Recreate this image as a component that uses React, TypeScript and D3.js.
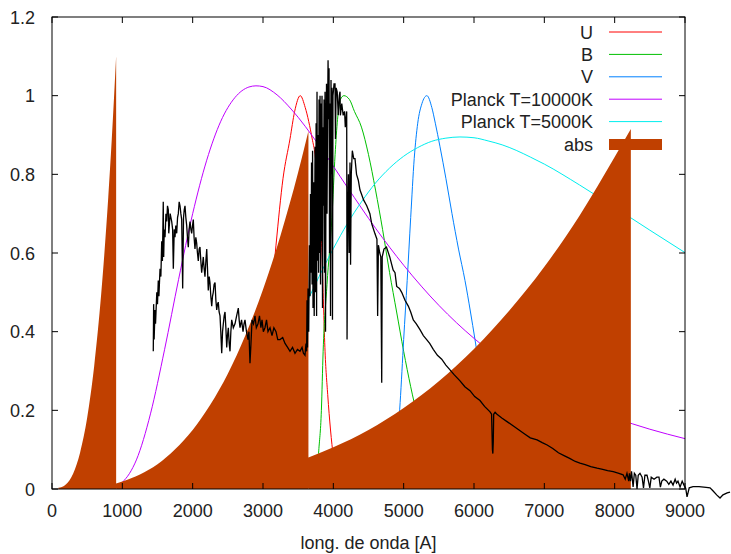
import React from "react";
import * as d3 from "d3";

// ---- data (wavelength in Angstrom) ----
const xTicks = [0, 1000, 2000, 3000, 4000, 5000, 6000, 7000, 8000, 9000];
const yTicks = [0, 0.2, 0.4, 0.6, 0.8, 1, 1.2];
const yTickLabels = ["0", "0.2", "0.4", "0.6", "0.8", "1", "1.2"];
const seriesNames = ["U", "B", "V", "Planck T=10000K", "Planck T=5000K", "abs"];
const seriesColors = ["#ff0000", "#00c000", "#0080ff", "#c000ff", "#00eeee", "#c04000"];

const uWave = [3000, 3100, 3185, 3285, 3384, 3450, 3530, 3600, 3700, 3740, 3800, 3840, 3860, 3880, 3920, 3960, 4000, 4050];
const uResp = [0.2, 0.45, 0.62, 0.79, 0.89, 0.96, 1.0, 0.97, 0.89, 0.85, 0.72, 0.59, 0.47, 0.36, 0.24, 0.15, 0.08, 0.0];

const bWave = [3760, 3790, 3830, 3855, 3910, 3980, 4025, 4060, 4100, 4150, 4230, 4300, 4400, 4500, 4600, 4700, 4800, 4900, 5000, 5100, 5200, 5300, 5400, 5500];
const bResp = [0, 0.09, 0.2, 0.35, 0.52, 0.69, 0.85, 0.94, 0.99, 1.0, 0.99, 0.96, 0.92, 0.85, 0.76, 0.66, 0.55, 0.45, 0.35, 0.26, 0.18, 0.1, 0.04, 0];

const vWave = [4850, 4900, 4950, 5000, 5050, 5100, 5150, 5200, 5260, 5330, 5400, 5450, 5517, 5600, 5687, 5780, 5872, 5950, 6014, 6100, 6200, 6300, 6400];
const vResp = [0, 0.1, 0.22, 0.38, 0.53, 0.69, 0.84, 0.93, 0.98, 1.0, 0.97, 0.93, 0.87, 0.79, 0.7, 0.61, 0.53, 0.45, 0.38, 0.28, 0.17, 0.08, 0];

const p10Wave = [1000, 1100, 1200, 1400, 1600, 1800, 2000, 2200, 2400, 2600, 2800, 2900, 3000, 3200, 3400, 3800, 4200, 4600, 5000, 5500, 6000, 6500, 7000, 7500, 8000, 8500, 9000];
const p10Flux = [0.017, 0.039, 0.074, 0.191, 0.354, 0.533, 0.7, 0.836, 0.935, 0.995, 1.022, 1.025, 1.023, 1.002, 0.966, 0.873, 0.767, 0.663, 0.569, 0.467, 0.383, 0.315, 0.263, 0.216, 0.181, 0.152, 0.128];

const p5Wave = [3650, 3800, 3900, 4000, 4200, 4400, 4600, 4800, 5000, 5200, 5400, 5600, 5800, 6000, 6200, 6400, 6600, 6800, 7000, 7500, 8000, 8500, 9000];
const p5Flux = [0.485, 0.541, 0.577, 0.611, 0.675, 0.73, 0.778, 0.816, 0.846, 0.868, 0.884, 0.892, 0.895, 0.893, 0.885, 0.875, 0.861, 0.844, 0.826, 0.773, 0.716, 0.658, 0.601];

// absorcion: tres tramos (Lyman, Balmer, Paschen)
const lymanWave = [90, 140, 200, 300, 400, 500, 600, 700, 800, 850, 912];
const lymanVal = [0.003, 0.005, 0.012, 0.039, 0.093, 0.181, 0.313, 0.497, 0.742, 0.89, 1.1];
const balmerWave = [912, 1000, 1250, 1500, 1750, 2000, 2250, 2500, 2750, 3000, 3250, 3500, 3646];
const balmerVal = [0.014, 0.019, 0.037, 0.063, 0.101, 0.15, 0.214, 0.293, 0.391, 0.507, 0.645, 0.805, 0.91];
const paschenWave = [3646, 4000, 4500, 5000, 5500, 6000, 6500, 7000, 7500, 8000, 8230];
const paschenVal = [0.08, 0.106, 0.15, 0.206, 0.274, 0.356, 0.453, 0.565, 0.695, 0.844, 0.915];

const specWave = [
  1440, 1445, 1452, 1465, 1472, 1490, 1500, 1511, 1520, 1536, 1548, 1560, 1570, 1582, 1588, 1596, 1607, 1620, 1631, 1642,
  1654, 1660, 1680, 1702, 1715, 1725, 1738, 1749, 1760, 1773, 1785, 1796, 1808, 1820, 1832, 1844, 1858, 1870, 1880, 1891,
  1903, 1915, 1926, 1938, 1950, 1962, 1975, 1986, 1998, 2009, 2020, 2033, 2045, 2057, 2068, 2080, 2092, 2104, 2116, 2128,
  2140, 2151, 2163, 2175, 2188, 2200, 2211, 2222, 2235, 2246, 2258, 2271, 2282, 2293, 2305, 2318, 2330, 2342, 2353, 2364,
  2376, 2389, 2400, 2413, 2425, 2436, 2448, 2460, 2472, 2484, 2495, 2507, 2519, 2531, 2543, 2555, 2578, 2602, 2625, 2649,
  2661, 2673, 2695, 2716, 2730, 2744, 2765, 2787, 2800, 2815, 2829, 2844, 2865, 2886, 2905, 2929, 2950, 2970, 2986, 3005,
  3028, 3050, 3071, 3100, 3128, 3155, 3185, 3210, 3242, 3280, 3313, 3350, 3384, 3420, 3455, 3490, 3526, 3555, 3575, 3597,
  3611, 3620, 3626, 3633, 3640, 3650, 3660, 3668, 3675, 3683, 3690, 3698, 3705, 3711, 3720, 3728, 3740, 3748, 3755, 3762,
  3768, 3775, 3783, 3790, 3797, 3804, 3811, 3818, 3825, 3832, 3839, 3846, 3853, 3861, 3868, 3875, 3882, 3889, 3896, 3903,
  3910, 3918, 3925, 3932, 3939, 3946, 3953, 3960, 3967, 3974, 3981, 3988, 3995, 4010, 4024, 4030, 4040, 4055, 4070, 4085,
  4095, 4100, 4120, 4140, 4160, 4170, 4180, 4190, 4195, 4205, 4215, 4225, 4237, 4245, 4255, 4270, 4290, 4308, 4330, 4355,
  4379, 4400, 4430, 4475, 4520, 4545, 4590, 4610, 4620, 4630, 4641, 4660, 4675, 4688, 4695, 4720, 4755, 4802, 4850, 4877,
  4901, 4940, 4972, 5019, 5066, 5100, 5137, 5180, 5232, 5280, 5327, 5370, 5421, 5480, 5541, 5600, 5659, 5720, 5801, 5870,
  5943, 6010, 6085, 6150, 6228, 6250, 6262, 6268, 6274, 6280, 6300, 6327, 6400, 6480, 6560, 6640, 6720, 6800, 6897, 6970,
  7040, 7120, 7200, 7280, 7360, 7440, 7507, 7580, 7660, 7750, 7830, 7900, 7980, 8060, 8120, 8150, 8175, 8200, 8210, 8225,
  8240, 8262, 8280, 8300, 8318, 8335, 8360, 8390, 8410, 8430, 8460, 8480, 8500, 8520, 8560, 8600, 8630, 8650, 8670, 8700,
  8740, 8770, 8800, 8830, 8860, 8880, 8900, 8930, 8960, 8990, 9010, 9029, 9060, 9114, 9200, 9300, 9356, 9400, 9450, 9498,
  9540, 9600, 9640,
];
const specFlux = [
  0.35, 0.47, 0.38, 0.455, 0.42, 0.5, 0.47, 0.53, 0.49, 0.56, 0.54, 0.63, 0.58, 0.73, 0.59, 0.66, 0.64, 0.7, 0.68, 0.72,
  0.71, 0.65, 0.7, 0.68, 0.66, 0.56, 0.66, 0.64, 0.67, 0.65, 0.69, 0.7, 0.73, 0.72, 0.7, 0.685, 0.51, 0.69, 0.71, 0.72,
  0.69, 0.67, 0.64, 0.615, 0.66, 0.68, 0.66, 0.65, 0.67, 0.685, 0.64, 0.61, 0.64, 0.625, 0.6, 0.58, 0.61, 0.615, 0.58, 0.55,
  0.57, 0.59, 0.56, 0.54, 0.58, 0.61, 0.56, 0.505, 0.54, 0.525, 0.49, 0.465, 0.49, 0.5, 0.52, 0.525, 0.48, 0.455, 0.47, 0.475,
  0.45, 0.44, 0.4, 0.345, 0.4, 0.42, 0.44, 0.45, 0.41, 0.36, 0.39, 0.41, 0.37, 0.35, 0.4, 0.43, 0.41, 0.42, 0.44, 0.46,
  0.43, 0.41, 0.43, 0.4, 0.42, 0.43, 0.4, 0.38, 0.4, 0.32, 0.37, 0.43, 0.42, 0.44, 0.41, 0.42, 0.44, 0.41, 0.43, 0.4,
  0.41, 0.43, 0.4, 0.41, 0.39, 0.41, 0.4, 0.38, 0.38, 0.385, 0.37, 0.36, 0.35, 0.36, 0.345, 0.355, 0.35, 0.36, 0.345, 0.34,
  0.37, 0.35, 0.48, 0.36, 0.51, 0.4, 0.62, 0.49, 0.75, 0.55, 0.83, 0.52, 0.86, 0.46, 0.78, 0.44, 0.87, 0.5, 0.93, 0.44,
  1.01, 0.58, 0.9, 0.55, 0.99, 0.6, 1.0, 0.52, 0.98, 0.63, 1.0, 0.46, 0.92, 0.72, 0.99, 0.55, 1.01, 0.4, 0.85, 1.03,
  0.7, 0.94, 1.09, 0.94, 1.07, 0.6, 0.98, 0.44, 1.04, 0.8, 1.02, 0.43, 1.0, 1.03, 1.03, 0.89, 1.02, 1.01, 0.95, 1.0,
  1.01, 0.95, 0.98, 0.95, 0.96, 0.92, 0.94, 0.96, 0.38, 0.7, 0.8, 0.6, 0.83, 0.57, 0.8, 0.86, 0.84, 0.84, 0.8, 0.785,
  0.76, 0.75, 0.735, 0.72, 0.7, 0.675, 0.65, 0.64, 0.635, 0.44, 0.62, 0.6, 0.59, 0.27, 0.59, 0.61, 0.615, 0.59, 0.557, 0.55,
  0.515, 0.51, 0.5, 0.48, 0.465, 0.45, 0.43, 0.42, 0.405, 0.39, 0.38, 0.37, 0.355, 0.34, 0.33, 0.315, 0.303, 0.29, 0.275, 0.26,
  0.25, 0.235, 0.225, 0.21, 0.196, 0.19, 0.1, 0.09, 0.12, 0.19, 0.195, 0.19, 0.18, 0.17, 0.16, 0.15, 0.14, 0.13, 0.125, 0.118,
  0.112, 0.103, 0.092, 0.085, 0.078, 0.07, 0.066, 0.062, 0.057, 0.053, 0.05, 0.047, 0.044, 0.04, 0.036, 0.025, 0.04, 0.02, 0.04, 0.02,
  0.045, 0.005, 0.04, 0.035, 0.0, 0.035, 0.04, 0.03, 0.003, 0.035, 0.035, 0.02, 0.003, 0.03, 0.025, 0.03, 0.03, 0.005, 0.02, 0.025,
  0.02, 0.012, 0.02, 0.01, 0.025, 0.015, 0.02, 0.005, 0.02, 0.008, 0.002, -0.02, 0.003, 0.006, 0.006, 0.004, 0.003, -0.005, -0.015, -0.023,
  -0.015, -0.01, -0.008,
];

const W = 731;
const H = 554;
const left = 52;
const right = 685;
const top = 17;
const bottom = 489;
const font = "'Liberation Sans', Arial, sans-serif";

const App = () => {
  const x = d3.scaleLinear().domain([0, 9000]).range([left, right]);
  const y = d3.scaleLinear().domain([0, 1.2]).range([bottom, top]);

  const zip = (xs: number[], ys: number[]) => xs.map((w, i) => [w, ys[i]] as [number, number]);

  const smooth = d3
    .line<[number, number]>()
    .x((d) => x(d[0]))
    .y((d) => y(d[1]))
    .curve(d3.curveMonotoneX);
  const straight = d3
    .line<[number, number]>()
    .x((d) => x(d[0]))
    .y((d) => y(d[1]));
  const area = d3
    .area<[number, number]>()
    .x((d) => x(d[0]))
    .y0(y(0))
    .y1((d) => y(d[1]))
    .curve(d3.curveMonotoneX);

  const curves = [
    zip(uWave, uResp),
    zip(bWave, bResp),
    zip(vWave, vResp),
    zip(p10Wave, p10Flux),
    zip(p5Wave, p5Flux),
  ];
  // 3つの区間を1つのpathにまとめる（継ぎ目の白線を防ぐ）
  const absPath = [zip(lymanWave, lymanVal), zip(balmerWave, balmerVal), zip(paschenWave, paschenVal)]
    .map((p) => area(p) || "")
    .join(" ");

  const keyX1 = 609;
  const keyX2 = 662;
  const keyTextX = 593;
  const keyY = (i: number) => 32 + i * 22.4;

  return (
    <svg width={W} height={H} style={{ position: "absolute", left: 0, top: 0, background: "#fff" }}>
      <rect x={0} y={0} width={W} height={H} fill="#fff" />
      {/* 曲線 (フィルタとプランク) */}
      {curves.map((c, i) => (
        <path key={seriesNames[i]} d={smooth(c) || ""} fill="none" stroke={seriesColors[i]} strokeWidth={1} />
      ))}
      {/* 吸収 */}
      <path d={absPath} fill={seriesColors[5]} stroke="none" />
      {/* 枠 */}
      <rect x={left} y={top} width={right - left} height={bottom - top} fill="none" stroke="#000" strokeWidth={1} />
      {xTicks.map((t) => (
        <g key={"x" + t}>
          <line x1={x(t)} x2={x(t)} y1={bottom} y2={bottom - 6} stroke="#000" />
          <line x1={x(t)} x2={x(t)} y1={top} y2={top + 6} stroke="#000" />
          <text x={x(t)} y={517} textAnchor="middle" fontFamily={font} fontSize={18} fill="#222">
            {t}
          </text>
        </g>
      ))}
      {yTicks.map((t, i) => (
        <g key={"y" + t}>
          <line x1={left} x2={left + 6} y1={y(t)} y2={y(t)} stroke="#000" />
          <line x1={right} x2={right - 6} y1={y(t)} y2={y(t)} stroke="#000" />
          <text x={35} y={y(t) + 6.5} textAnchor="end" fontFamily={font} fontSize={18} fill="#222">
            {yTickLabels[i]}
          </text>
        </g>
      ))}
      {/* スペクトル */}
      <path d={straight(zip(specWave, specFlux)) || ""} fill="none" stroke="#000" strokeWidth={1.3} />
      <text x={(left + right) / 2} y={549} textAnchor="middle" fontFamily={font} fontSize={18} fill="#222">
        long. de onda [A]
      </text>
      {/* 凡例 */}
      {seriesNames.map((name, i) => (
        <g key={"k" + name}>
          <text x={keyTextX} y={keyY(i) + 6.5} textAnchor="end" fontFamily={font} fontSize={18} fill="#222">
            {name}
          </text>
          {i < 5 ? (
            <line x1={keyX1} x2={keyX2} y1={keyY(i)} y2={keyY(i)} stroke={seriesColors[i]} strokeWidth={1} />
          ) : (
            <rect x={keyX1} y={keyY(i) - 5} width={keyX2 - keyX1} height={11} fill={seriesColors[i]} />
          )}
        </g>
      ))}
    </svg>
  );
};

export default App;
